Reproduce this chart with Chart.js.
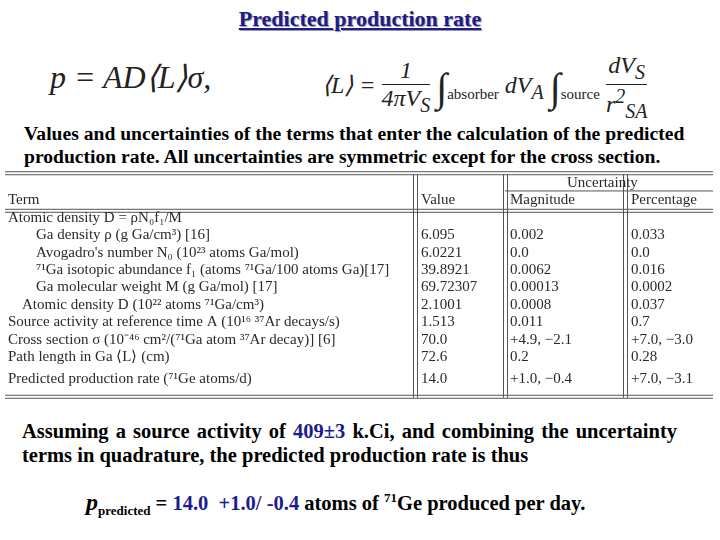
<!DOCTYPE html>
<html>
<head>
<meta charset="utf-8">
<script src="https://cdn.jsdelivr.net/npm/chart.js@4"></script>
<style>
body { margin:0; width:720px; height:540px; background:#fff; font-family:"Liberation Serif","Times New Roman",serif; position:relative; overflow:hidden; }
.abs { position:absolute; white-space:nowrap; }
#title { left:0; width:720px; top:6px; text-align:center; font-weight:bold; font-size:22px; color:#1c1c90; text-decoration:underline; text-shadow:1px 1px 1px #999; }
.f { font-size:32px; font-style:italic; color:#222; }
.cap { left:24px; font-weight:bold; font-size:19.6px; color:#000; }
.txt { left:22px; font-weight:bold; font-size:20.5px; color:#000; }
#wrap { left:5px; top:166px; width:710px; height:234px; }
</style>
</head>
<body>
<div id="title" class="abs">Predicted production rate</div>
<div class="abs f" style="left:50px;top:58px;">p = AD⟨L⟩σ,</div>
<div class="abs" style="left:322px;top:52px;font-size:24px;font-style:italic;color:#222;">
⟨L⟩ = <span style="display:inline-block;text-align:center;vertical-align:middle;"><span style="display:block;border-bottom:1px solid #222;">1</span>4πV<sub>S</sub></span>
<span style="font-size:40px;vertical-align:middle;">∫</span><sub style="font-size:15px;font-style:normal;">absorber</sub> dV<sub>A</sub>
<span style="font-size:40px;vertical-align:middle;">∫</span><sub style="font-size:15px;font-style:normal;">source</sub>
<span style="display:inline-block;text-align:center;vertical-align:middle;"><span style="display:block;border-bottom:1px solid #222;">dV<sub>S</sub></span>r<sup>2</sup><sub>SA</sub></span>
</div>
<div class="abs cap" style="top:123px;">Values and uncertainties of the terms that enter the calculation of the predicted</div>
<div class="abs cap" style="top:146px;">production rate. All uncertainties are symmetric except for the cross section.</div>
<div id="wrap" class="abs"><canvas id="table"></canvas></div>
<div class="abs txt" style="top:420px;word-spacing:2px;">Assuming a source activity of <span style="color:#1c1c90">409±3</span> k.Ci, and combining the uncertainty</div>
<div class="abs txt" style="top:444px;">terms in quadrature, the predicted production rate is thus</div>
<div class="abs txt" style="left:86px;top:489px;"><span style="font-size:24px;font-style:italic;">p</span><sub style="font-size:13px;">predicted</sub> = <span style="color:#1c1c90">14.0 &nbsp;+1.0/ -0.4</span> atoms of <sup style="font-size:13px;">71</sup>Ge produced per day.</div>
<script>
var terms = ["Atomic density D = ρN₀f₁/M", "Ga density ρ (g Ga/cm³) [16]", "Avogadro's number N₀ (10²³ atoms Ga/mol)",
  "⁷¹Ga isotopic abundance f₁ (atoms ⁷¹Ga/100 atoms Ga)[17]", "Ga molecular weight M (g Ga/mol) [17]",
  "Atomic density D (10²² atoms ⁷¹Ga/cm³)", "Source activity at reference time A (10¹⁶ ³⁷Ar decays/s)",
  "Cross section σ (10⁻⁴⁶ cm²/(⁷¹Ga atom ³⁷Ar decay)] [6]", "Path length in Ga ⟨L⟩ (cm)",
  "Predicted production rate (⁷¹Ge atoms/d)"];
var indent = [0, 2, 2, 2, 2, 1, 0, 0, 0, 0];
var values = ["", "6.095", "6.0221", "39.8921", "69.72307", "2.1001", "1.513", "70.0", "72.6", "14.0"];
var magnitude = ["", "0.002", "0.0", "0.0062", "0.00013", "0.0008", "0.011", "+4.9, −2.1", "0.2", "+1.0, −0.4"];
var percentage = ["", "0.033", "0.0", "0.016", "0.0002", "0.037", "0.7", "+7.0, −3.0", "0.28", "+7.0, −3.1"];

var rows = terms.map(function(t, i) { return {x: 0, y: i + (i == 9 ? 0.25 : 0)}; });

var tablePlugin = {
  id: 'tablePlugin',
  afterDraw: function(chart) {
    var c = chart.ctx, xs = chart.scales.x, ys = chart.scales.y;
    var X = function(v) { return xs.getPixelForValue(v); };
    var Y = function(v) { return ys.getPixelForValue(v); };
    c.save();
    c.strokeStyle = '#555'; c.lineWidth = 1;
    function h(y, x0, x1) { c.beginPath(); c.moveTo(X(x0), y + 0.5); c.lineTo(X(x1), y + 0.5); c.stroke(); }
    function v(x, y0, y1) { c.beginPath(); c.moveTo(X(x) + 0.5, y0); c.lineTo(X(x) + 0.5, y1); c.stroke(); }
    var top = Y(-2.6), bot = Y(10.2);
    h(top, 0, 708); h(top + 3, 0, 708);
    h(Y(-1.5), 500, 708);
    h(Y(-0.45), 0, 708); h(Y(-0.45) + 3, 0, 708);
    h(bot, 0, 708); h(bot + 3, 0, 708);
    [408, 412, 498, 502, 618, 622].forEach(function(x) { v(x, top + 3, bot + 3); });
    c.fillStyle = '#2a2a2a';
    c.font = '15px "Liberation Serif", serif';
    c.textBaseline = 'middle';
    c.fillText('Uncertainty', X(562), Y(-1.95));
    c.fillText('Term', X(3), Y(-0.95));
    c.fillText('Value', X(416), Y(-0.95));
    c.fillText('Magnitude', X(505), Y(-0.95));
    c.fillText('Percentage', X(626), Y(-0.95));
    chart.getDatasetMeta(0).data.forEach(function(p, i) {
      var y = p.y + 1;
      c.fillText(terms[i], X(3 + indent[i] * 14), y);
      c.fillText(values[i], X(416), y);
      c.fillText(magnitude[i], X(505), y);
      c.fillText(percentage[i], X(626), y);
    });
    c.restore();
  }
};

new Chart(document.getElementById('table'), {
  type: 'scatter',
  data: { datasets: [{ data: rows, pointRadius: 0 }] },
  options: {
    responsive: true, maintainAspectRatio: false, animation: false,
    layout: { padding: 0 },
    plugins: { legend: { display: false }, tooltip: { enabled: false } },
    scales: {
      x: { display: false, min: 0, max: 710 },
      y: { display: false, min: -2.9, max: 10.5, reverse: true }
    }
  },
  plugins: [tablePlugin]
});
</script>
</body>
</html>
